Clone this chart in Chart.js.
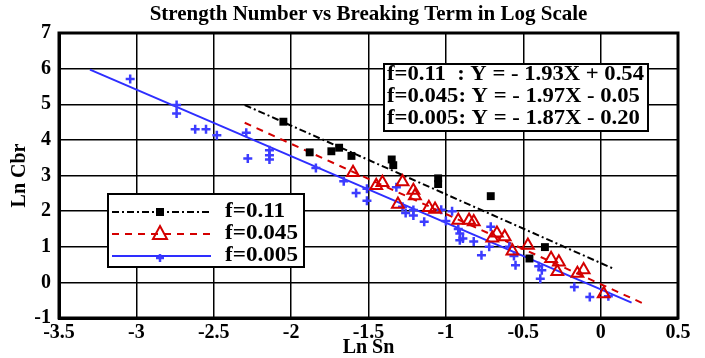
<!DOCTYPE html>
<html><head><meta charset="utf-8">
<script src="https://cdn.jsdelivr.net/npm/chart.js@4/dist/chart.umd.min.js"></script>
<style>html,body{margin:0;padding:0;background:#fff;}#wrap{width:705px;height:358px;}</style>
</head><body><div id="wrap"><canvas id="c" width="705" height="358"></canvas></div>
<script>
const chartTitle = 'Strength Number vs Breaking Term in Log Scale';
const xAxisTitle = 'Ln Sn';
const yAxisTitle = 'Ln Cbr';
const xTickValues = [-3.5, -3, -2.5, -2, -1.5, -1, -0.5, 0, 0.5];
const xTickLabels = ['-3.5', '-3', '-2.5', '-2', '-1.5', '-1', '-0.5', '0', '0.5'];
const yTickValues = [-1, 0, 1, 2, 3, 4, 5, 6, 7];
const yTickLabels = ['-1', '0', '1', '2', '3', '4', '5', '6', '7'];
const seriesNames = ['f=0.11', 'f=0.045', 'f=0.005'];
const equationLabels = ['f=0.11  : Y = - 1.93X + 0.54', 'f=0.045: Y = - 1.97X - 0.05', 'f=0.005: Y = - 1.87X - 0.20'];

// f = 0.11 (black squares)
const f011X = [-2.05, -1.88, -1.74, -1.69, -1.61, -1.35, -1.34, -1.05, -1.05, -0.71, -0.46, -0.36];
const f011Y = [4.51, 3.65, 3.68, 3.78, 3.55, 3.45, 3.29, 2.92, 2.76, 2.42, 0.67, 0.99];
// f = 0.045 (red triangles)
const f045X = [-1.60, -1.45, -1.41, -1.28, -1.21, -1.20, -1.31, -1.11, -1.07, -0.92, -0.85, -0.82, -0.70, -0.67, -0.62, -0.57, -0.47, -0.32, -0.27, -0.28, -0.15, -0.11, 0.02];
const f045Y = [3.08, 2.72, 2.80, 2.82, 2.58, 2.43, 2.19, 2.10, 2.05, 1.74, 1.74, 1.70, 1.24, 1.38, 1.28, 0.88, 1.04, 0.67, 0.57, 0.30, 0.25, 0.35, -0.32];
// f = 0.005 (blue crosses)
const f005X = [-3.04, -2.74, -2.74, -2.62, -2.55, -2.48, -2.29, -2.28, -2.14, -2.14, -2.14, -1.84, -1.66, -1.58, -1.51, -1.51, -1.32, -1.28, -1.26, -1.21, -1.21, -1.14, -1.03, -1.00, -0.96, -0.92, -0.91, -0.91, -0.89, -0.82, -0.71, -0.72, -0.77, -0.59, -0.56, -0.55, -0.40, -0.38, -0.39, -0.17, -0.07, 0.05];
const f005Y = [5.71, 4.98, 4.74, 4.30, 4.30, 4.13, 4.20, 3.48, 3.71, 3.57, 3.45, 3.21, 2.84, 2.51, 2.63, 2.29, 2.67, 2.12, 1.95, 2.03, 1.88, 1.70, 2.04, 1.72, 2.00, 1.50, 1.37, 1.18, 1.23, 1.15, 1.56, 1.00, 0.76, 1.00, 0.74, 0.48, 0.45, 0.34, 0.10, -0.13, -0.41, -0.39];

// fitted lines (end points)
const fit011X = [-2.30, 0.08], fit011Y = [4.98, 0.39];
const fit045X = [-2.30, 0.30], fit045Y = [4.48, -0.64];
const fit005X = [-3.30, 0.20], fit005Y = [5.97, -0.57];

const pts = (xs, ys) => xs.map((x, i) => ({x: x, y: ys[i]}));
const FONT = 'Liberation Serif, Times New Roman, serif';
const RED = '#d40000', BLUE = '#2e2eff', BLUE_PT = '#3c3cff';

function stretchedText(ctx, t, x, y, k) {
  ctx.save(); ctx.translate(x, y); ctx.scale(k, 1); ctx.fillText(t, 0, 0); ctx.restore();
}

const frameAndBoxes = {
  id: 'frameAndBoxes',
  afterDraw(chart) {
    const ctx = chart.ctx, a = chart.chartArea;
    ctx.save();
    // title, centred over the plot area
    ctx.fillStyle = '#000'; ctx.font = 'bold 21px ' + FONT;
    ctx.textAlign = 'center'; ctx.textBaseline = 'middle';
    ctx.fillText(chartTitle, (a.left + a.right) / 2, 15);

    ctx.strokeStyle = '#000'; ctx.lineWidth = 3;
    ctx.strokeRect(a.left, a.top, a.right - a.left, a.bottom - a.top);

    // equations box
    ctx.fillStyle = '#fff'; ctx.fillRect(384, 64, 264, 67);
    ctx.lineWidth = 2; ctx.strokeRect(384, 64, 264, 67);
    ctx.fillStyle = '#000'; ctx.font = 'bold 20px ' + FONT;
    ctx.textBaseline = 'middle'; ctx.textAlign = 'left';
    const eqK = 257 / ctx.measureText(equationLabels[0]).width;
    const eqY = [75, 97, 119];
    equationLabels.forEach((t, i) => stretchedText(ctx, t, 387, eqY[i], eqK));

    // legend box
    ctx.fillStyle = '#fff'; ctx.fillRect(108, 194, 196, 73);
    ctx.lineWidth = 2; ctx.strokeStyle = '#000'; ctx.strokeRect(108, 194, 196, 73);
    const rows = [212, 234, 256];
    const colors = ['#000', RED, BLUE];
    const dashes = [[7, 3, 2, 3], [7, 6], []];
    rows.forEach((ry, i) => {
      ctx.beginPath(); ctx.setLineDash(dashes[i]);
      ctx.strokeStyle = colors[i]; ctx.lineWidth = 2;
      ctx.moveTo(112, ry); ctx.lineTo(211, ry); ctx.stroke();
      ctx.setLineDash([]);
    });
    // markers
    ctx.fillStyle = '#000'; ctx.fillRect(156, 208, 8, 8);
    ctx.strokeStyle = RED; ctx.lineWidth = 2;
    ctx.beginPath(); ctx.moveTo(160, 226); ctx.lineTo(167, 239); ctx.lineTo(153, 239); ctx.closePath(); ctx.stroke();
    ctx.strokeStyle = BLUE_PT; ctx.lineWidth = 2.5;
    ctx.beginPath(); ctx.moveTo(156, 258); ctx.lineTo(164, 258); ctx.moveTo(160, 254); ctx.lineTo(160, 262); ctx.stroke();
    ctx.fillStyle = '#000'; ctx.font = 'bold 20px ' + FONT;
    const lgK = 73 / ctx.measureText(seriesNames[1]).width;
    seriesNames.forEach((t, i) => stretchedText(ctx, t, 225, rows[i], lgK));
    ctx.restore();
  }
};

new Chart(document.getElementById('c'), {
  type: 'scatter',
  data: {
    datasets: [
      {label: seriesNames[0], data: pts(f011X, f011Y), pointStyle: 'rect', pointRadius: 5.6, backgroundColor: '#000', borderColor: '#000', borderWidth: 0, showLine: false},
      {label: seriesNames[1], data: pts(f045X, f045Y), pointStyle: 'triangle', pointRadius: 6.8, backgroundColor: 'rgba(0,0,0,0)', borderColor: RED, borderWidth: 2, showLine: false},
      {label: seriesNames[2], data: pts(f005X, f005Y), pointStyle: 'cross', pointRadius: 4.5, borderColor: BLUE_PT, borderWidth: 2.5, showLine: false},
      {label: 'fit 0.11', data: pts(fit011X, fit011Y), showLine: true, pointRadius: 0, borderColor: '#000', borderWidth: 2, borderDash: [7, 3, 2, 3], fill: false},
      {label: 'fit 0.045', data: pts(fit045X, fit045Y), showLine: true, pointRadius: 0, borderColor: RED, borderWidth: 2, borderDash: [7, 6], fill: false},
      {label: 'fit 0.005', data: pts(fit005X, fit005Y), showLine: true, pointRadius: 0, borderColor: BLUE, borderWidth: 2, fill: false}
    ]
  },
  options: {
    responsive: false, animation: false, devicePixelRatio: 1,
    layout: {padding: {left: 0, right: 27, top: 33, bottom: 0}},
    plugins: {
      legend: {display: false}, tooltip: {enabled: false}, title: {display: false}
    },
    scales: {
      x: {
        type: 'linear', min: -3.5, max: 0.5,
        afterBuildTicks: s => { s.ticks = xTickValues.map(v => ({value: v})); },
        afterFit: s => { s.height = 40; },
        ticks: {callback: (v, i) => xTickLabels[i], color: '#000', font: {family: FONT, size: 20, weight: 'bold'}, padding: 3, maxRotation: 0, autoSkip: false},
        grid: {color: '#000', lineWidth: 1.5, drawTicks: false},
        border: {display: true, color: '#000', width: 3},
        title: {display: true, text: xAxisTitle, color: '#000', font: {family: FONT, size: 20, weight: 'bold', lineHeight: 1}, padding: {top: 0, bottom: 0}}
      },
      y: {
        type: 'linear', min: -1, max: 7,
        afterBuildTicks: s => { s.ticks = yTickValues.map(v => ({value: v})); },
        afterFit: s => { s.width = 59; },
        ticks: {callback: (v, i) => yTickLabels[i], color: '#000', font: {family: FONT, size: 20, weight: 'bold'}, padding: 8, autoSkip: false},
        grid: {color: '#000', lineWidth: 1.5, drawTicks: false},
        border: {display: true, color: '#000', width: 3},
        title: {display: true, text: yAxisTitle, color: '#000', font: {family: FONT, size: 20, weight: 'bold'}, padding: {top: 8, bottom: 0}}
      }
    }
  },
  plugins: [frameAndBoxes]
});
</script></body></html>
